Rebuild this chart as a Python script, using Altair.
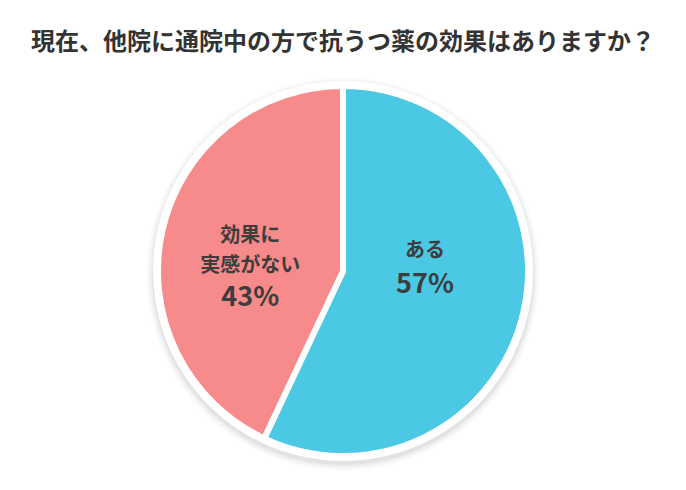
import math
import altair as alt
import pandas as pd

# ---- data ----
title_text = "現在、他院に通院中の方で抗うつ薬の効果はありますか？"
categories = ["ある", "効果に実感がない"]
values = [57, 43]
pct_labels = ["57%", "43%"]
name_lines = [["ある"], ["効果に", "実感がない"]]
colors = ["#4BC8E3", "#F78A8A"]

FONT = "Noto Sans CJK JP"
TEXT_COLOR = "#3d3d3d"
THETA_DOMAIN = [0, sum(values)]
FULL = 2 * math.pi

df = pd.DataFrame({
    "cat": categories,
    "value": values,
    "order": list(range(len(categories))),
    "pct": pct_labels,
})
one = pd.DataFrame({"v": [1]})

cx = alt.value({"expr": "width/2"})
cy = alt.value({"expr": "height/2"})
cy_shadow = alt.value({"expr": "height/2+3"})

layers = []

# soft drop shadow of the white rim
for r, op in [(197, 0.012), (195, 0.022), (193, 0.032), (191, 0.045)]:
    layers.append(
        alt.Chart(one).mark_arc(theta=0, theta2=FULL, radius=r, color="#000000", opacity=op)
        .encode(x=cx, y=cy_shadow)
    )

# white rim
layers.append(
    alt.Chart(one).mark_arc(theta=0, theta2=FULL, radius=190, color="#ffffff")
    .encode(x=cx, y=cy)
)

# pie
pie = alt.Chart(df).mark_arc(radius=185, stroke="#ffffff", strokeWidth=6).encode(
    theta=alt.Theta("value:Q", stack=True, scale=alt.Scale(domain=THETA_DOMAIN)),
    color=alt.Color("cat:N", scale=alt.Scale(domain=categories, range=colors), legend=None),
    order=alt.Order("order:Q"),
    x=cx, y=cy,
)
layers.append(pie)

# labels at slice mid-angles
stacked = (
    alt.Chart(df)
    .transform_window(cum="sum(value)", sort=[alt.SortField("order")], frame=[None, 0])
    .transform_calculate(mid="datum.cum - datum.value / 2")
)

label_specs = {
    "ある": {"r": 84, "name_dy": [-38], "pct_dy": -4},
    "効果に実感がない": {"r": 95, "name_dy": [-14, 16], "pct_dy": 48},
}

for cat, lines, pct in zip(categories, name_lines, pct_labels):
    spec = label_specs[cat]
    sub = stacked.transform_filter(alt.datum.cat == cat)
    th = alt.Theta("mid:Q", stack=False, scale=alt.Scale(domain=THETA_DOMAIN))
    for line, dy in zip(lines, spec["name_dy"]):
        layers.append(
            sub.mark_text(radius=spec["r"], dy=dy, font=FONT, fontSize=20, fontWeight="bold",
                          color=TEXT_COLOR, align="center", baseline="middle")
            .encode(theta=th, text=alt.value(line), x=cx, y=cy)
        )
    layers.append(
        sub.mark_text(radius=spec["r"], dy=spec["pct_dy"], font=FONT, fontSize=27, fontWeight="bold",
                      color=TEXT_COLOR, align="center", baseline="middle")
        .encode(theta=th, text="pct:N", x=cx, y=cy)
    )

chart = alt.layer(*layers).properties(
    width=670,
    height=406,
    padding={"top": 60, "left": 0, "right": 0, "bottom": 0},
    autosize=alt.AutoSizeParams(type="none"),
    title=alt.TitleParams(
        text=title_text, font=FONT, fontSize=24, fontWeight="bold",
        color="#333333", anchor="middle", offset=13,
    ),
).configure_view(stroke=None)

chart.save("out.html", embed_options={"renderer": "svg", "actions": False})
